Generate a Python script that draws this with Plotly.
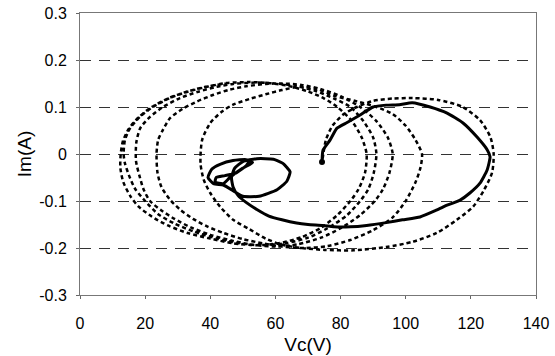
import plotly.graph_objects as go

# ---------------- data ----------------
# dotted trajectory (uncontrolled), Vc in volts, Im in amps
dot_vc = [74.5, 75.5, 77.5, 81, 85, 90, 96, 102, 110, 117.5, 122.8, 126, 127, 126.5, 124, 120.7, 115.7,
          109.5, 102, 94, 84, 75, 68, 62, 57, 52, 47, 43, 40, 38, 37, 37.5, 40, 43.5, 47, 52, 57, 62, 67.5,
          # loop 2
          73, 78, 85, 91, 96, 100, 103, 105, 104.5, 103, 100, 96, 90, 83, 76, 69, 62, 56, 50, 44, 39, 34.7,
          30.7, 27.6, 25, 23.8, 23.5, 24, 25.5, 27.6, 31.5, 36, 41, 46, 51, 57, 62,
          # loop 3
          68, 74, 80, 86, 91, 94.5, 96, 95, 93, 90.5, 86, 80, 74, 67, 60, 53, 47, 40, 34, 29, 25, 21.5, 19.5,
          18.4, 17.2, 17.3, 18.5, 21.5, 25.5, 30.7, 36, 42, 47, 54, 60,
          # loop 4
          66, 72, 78, 83, 87, 90, 91, 90.2, 88.5, 86, 82, 76, 70, 63, 56, 49, 42, 35, 29, 24, 20, 17, 15.3,
          13.8, 13.4, 13.8, 15.4, 18.4, 22.4, 27.6, 32.8, 39, 45, 52, 58,
          # loop 5
          64, 70, 75, 79, 83.5, 86.5, 88, 87.5, 85.5, 83, 79, 74, 68, 61, 54, 47, 40, 33, 27, 22, 18, 15.5,
          13.3, 12.4, 12.5, 13.2, 15, 18, 22, 27.3, 32.5, 38.5, 45]
dot_im = [-0.01, 0.03, 0.06, 0.085, 0.1, 0.113, 0.118, 0.119, 0.115, 0.1, 0.072, 0.036, 0.0, -0.04, -0.077,
          -0.112, -0.14, -0.168, -0.187, -0.198, -0.205, -0.204, -0.2, -0.193, -0.18, -0.16, -0.14, -0.112,
          -0.083, -0.055, -0.02, 0.03, 0.066, 0.09, 0.105, 0.117, 0.127, 0.136, 0.143,
          0.138, 0.124, 0.112, 0.1, 0.085, 0.06, 0.03, 0.0, -0.03, -0.06, -0.1, -0.135, -0.162, -0.183, -0.196,
          -0.2, -0.197, -0.19, -0.181, -0.168, -0.154, -0.138, -0.118, -0.097, -0.07, -0.04, 0.0, 0.03, 0.052,
          0.076, 0.096, 0.112, 0.126, 0.137, 0.144, 0.149, 0.15,
          0.147, 0.138, 0.123, 0.1, 0.07, 0.035, 0.0, -0.04, -0.075, -0.1, -0.13, -0.158, -0.178, -0.192,
          -0.197, -0.193, -0.185, -0.172, -0.156, -0.138, -0.12, -0.1, -0.075, -0.05, -0.015, 0.025, 0.055,
          0.079, 0.1, 0.119, 0.132, 0.143, 0.149, 0.152, 0.15,
          0.145, 0.135, 0.118, 0.1, 0.07, 0.035, 0.0, -0.04, -0.075, -0.1, -0.13, -0.158, -0.178, -0.19,
          -0.194, -0.19, -0.18, -0.165, -0.148, -0.128, -0.1, -0.075, -0.05, -0.02, 0.0, 0.03, 0.055, 0.079,
          0.1, 0.119, 0.132, 0.143, 0.151, 0.153, 0.151,
          0.145, 0.133, 0.118, 0.1, 0.07, 0.035, 0.0, -0.04, -0.075, -0.1, -0.13, -0.157, -0.177, -0.19,
          -0.194, -0.19, -0.18, -0.168, -0.152, -0.133, -0.112, -0.09, -0.06, -0.03, 0.0, 0.028, 0.054, 0.078,
          0.1, 0.119, 0.132, 0.143, 0.15]

# solid trajectory (controlled)
sol_vc = [74.3, 74.6, 76.8, 78.9, 82, 86, 90, 94, 98, 102, 107.5, 112.7, 117.6, 121.9, 125, 125.9, 125,
          122.8, 119.7, 116.7, 112.7, 109.6, 104.4, 99, 94, 88, 83, 78, 74.6, 70, 66.5, 62, 58, 54.3, 51,
          48.5, 47, 46.5, 47.5, 50, 54.3, 59.4, 62.3, 64.5, 63.5, 60.5, 55, 50, 47, 44, 41, 39.3, 40.5, 43,
          47, 51, 53, 50, 46, 44, 41.5, 41.8, 44.5, 48, 51, 52]
sol_im = [-0.017, 0.008, 0.03, 0.055, 0.067, 0.083, 0.1, 0.104, 0.105, 0.109, 0.1, 0.087, 0.066, 0.036,
          0.009, -0.006, -0.034, -0.062, -0.083, -0.098, -0.109, -0.119, -0.134, -0.14, -0.146, -0.152,
          -0.155, -0.155, -0.152, -0.15, -0.147, -0.14, -0.132, -0.118, -0.103, -0.088, -0.07, -0.05, -0.03,
          -0.016, -0.01, -0.011, -0.02, -0.038, -0.058, -0.076, -0.09, -0.09, -0.078, -0.066, -0.063, -0.05,
          -0.032, -0.022, -0.014, -0.012, -0.018, -0.03, -0.05, -0.063, -0.06, -0.05, -0.046, -0.04, -0.025,
          -0.015]

x_ticks = [0, 20, 40, 60, 80, 100, 120, 140]
y_ticks = [-0.3, -0.2, -0.1, 0, 0.1, 0.2, 0.3]
y_tick_labels = ["-0.3", "-0.2", "-0.1", "0", "0.1", "0.2", "0.3"]
x_title = "Vc(V)"
y_title = "Im(A)"

# ---------------- figure ----------------
fig = go.Figure()
fig.add_trace(go.Scatter(x=dot_vc, y=dot_im, mode="lines",
                         line=dict(color="black", width=2.5, dash="4px,3px", shape="spline", smoothing=0.7),
                         showlegend=False, hoverinfo="skip"))
fig.add_trace(go.Scatter(x=sol_vc, y=sol_im, mode="lines",
                         line=dict(color="black", width=3, shape="spline", smoothing=0.5),
                         showlegend=False, hoverinfo="skip"))
fig.add_trace(go.Scatter(x=sol_vc[:1], y=sol_im[:1], mode="markers",
                         marker=dict(color="black", size=6), showlegend=False, hoverinfo="skip"))

font = dict(family="Liberation Sans, Arial, sans-serif", size=16, color="black")
tfont = dict(family="Liberation Sans, Arial, sans-serif", size=19, color="black")
fig.update_layout(
    width=555, height=356,
    margin=dict(l=80, r=19, t=13, b=61, autoexpand=False),
    paper_bgcolor="white", plot_bgcolor="white",
    font=font,
    xaxis=dict(range=[0, 140], tickvals=x_ticks, ticks="outside", ticklen=3, tickcolor="#666",
               showgrid=False, zeroline=False, showline=True, mirror=True, linecolor="#777", linewidth=1,
               tickfont=font, ticklabelstandoff=11, automargin=False,
               title=dict(text=x_title, font=tfont, standoff=6)),
    yaxis=dict(range=[-0.3, 0.3], tickvals=y_ticks, ticktext=y_tick_labels, ticks="outside", ticklen=3,
               tickcolor="#666", showgrid=True, gridcolor="#333", gridwidth=1, griddash="11px,8px",
               zeroline=False, showline=True, mirror=True, linecolor="#777", linewidth=1,
               tickfont=font, ticklabelstandoff=6, automargin=False,
               title=dict(text=y_title, font=tfont, standoff=2)),
)

fig.write_html("out.html")
